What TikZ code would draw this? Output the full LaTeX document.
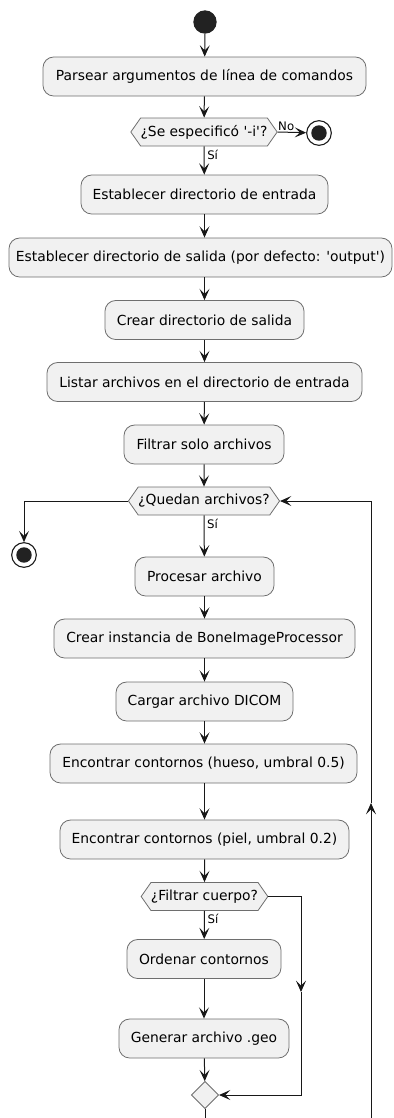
\documentclass[tikz,border=0pt]{standalone}
\usepackage{fontspec}
\setmainfont{DejaVu Sans}
\usetikzlibrary{arrows.meta,shapes.symbols,shapes.geometric,calc}
\definecolor{boxfill}{HTML}{F1F1F1}
\definecolor{boxline}{HTML}{6E6E6E}
\definecolor{arrcol}{HTML}{181818}
\definecolor{dotcol}{HTML}{222222}
\newcommand{\sq}{\textquotesingle}
\begin{document}
\begin{tikzpicture}[x=0.75pt,y=-0.75pt,
  box/.style={draw=boxline, fill=boxfill, rounded corners=8pt, line width=0.6pt,
    minimum height=29.25pt, inner sep=0pt, font=\fontsize{10.4}{12}\selectfont},
  bw/.style={minimum width=#1*0.75pt},
  dec/.style={draw=boxline, fill=boxfill, signal, signal to=east and west,
    signal pointer angle=110, line width=0.6pt, inner sep=0pt,
    minimum height=21pt, font=\fontsize{10.4}{12}\selectfont},
  arr/.style={draw=arrcol, line width=0.75pt, -{Stealth[length=8.5pt,width=7.5pt,inset=3.8pt]}},
  plain/.style={draw=arrcol, line width=0.75pt},
  lab/.style={font=\fontsize{8.8}{10}\selectfont, inner sep=1pt},
  startdot/.style={circle, fill=dotcol, minimum size=17.5pt, inner sep=0pt},
  enddot/.style={circle, draw=arrcol, fill=white, line width=0.8pt, minimum size=18.5pt, inner sep=0pt,
    path picture={\fill[dotcol] (path picture bounding box.center) circle (5.8pt);}},
  merge/.style={diamond, draw=boxline, fill=boxfill, line width=0.6pt, minimum size=20.5pt, inner sep=0pt}
]
\useasboundingbox (0,0) rectangle (393,1118);
\clip (0,0) rectangle (393,1118);

\node[startdot] (start) at (205,22) {};
\node[box, bw=323] (b1) at (204.5,76.5) {Parsear argumentos de línea de comandos};
\node[dec, minimum width=108pt] (d1) at (204,132) {¿Se especificó \sq-i\sq?};
\node[enddot] (e1) at (319,133) {};
\node[box, bw=247] (b2) at (204.5,194.5) {Establecer directorio de entrada};
\node[box, bw=383] (b3) at (200.5,257.5) {Establecer directorio de salida (por defecto: \sq output\sq)};
\node[box, bw=199] (b4) at (204.5,320) {Crear directorio de salida};
\node[box, bw=315] (b5) at (204.5,382) {Listar archivos en el directorio de entrada};
\node[box, bw=160] (b6) at (204,444.5) {Filtrar solo archivos};
\node[dec, minimum width=111pt] (d2) at (204,501) {¿Quedan archivos?};
\node[enddot] (e2) at (24,555) {};
\node[box, bw=139] (b7) at (204.5,576.5) {Procesar archivo};
\node[box, bw=301] (b8) at (204.5,638.5) {Crear instancia de BoneImageProcessor};
\node[box, bw=177] (b9) at (204.5,701.5) {Cargar archivo DICOM};
\node[box, bw=307] (b10) at (203.5,763.5) {Encontrar contornos (hueso, umbral 0.5)};
\node[box, bw=289] (b11) at (204.5,839.5) {Encontrar contornos (piel, umbral 0.2)};
\node[dec, minimum width=95pt] (d3) at (204.5,896.5) {¿Filtrar cuerpo?};
\node[box, bw=154] (b12) at (204,959) {Ordenar contornos};
\node[box, bw=170] (b13) at (204,1038.5) {Generar archivo .geo};
\node[merge] (m) at (205,1095) {};

\coordinate (c2l) at (24,501);
\coordinate (c3a) at (301,896.5);
\coordinate (c3m) at (301,992);
\coordinate (c3b) at (301,1095);
\coordinate (lb1) at (205,1140);
\coordinate (lb2) at (371,1140);
\coordinate (lm) at (371,803);
\coordinate (lt) at (371,501);

\draw[arr] (start) -- (b1);
\draw[arr] (b1) -- (d1);
\draw[arr] (d1.east) -- node[lab, pos=0.3, above] {No} (e1);
\draw[arr] (d1.south) -- node[lab, pos=0.3, right, xshift=1pt] {Sí} (b2);
\draw[arr] (b2) -- (b2 |- b3.north);
\draw[arr] (b2 |- b3.south) -- (b4);
\draw[arr] (b4) -- (b5);
\draw[arr] (b5) -- (b6);
\draw[arr] (b6) -- (d2);
\draw[arr] (d2.west) -- (c2l) -- (e2);
\draw[arr] (d2.south) -- node[lab, pos=0.2, right, xshift=1pt] {Sí} (b7);
\draw[arr] (b7) -- (b8);
\draw[arr] (b8) -- (b9);
\draw[arr] (b9) -- (b9 |- b10.north);
\draw[arr] (b9 |- b10.south) -- (b9 |- b11.north);
\draw[arr] (b9 |- b11.south) -- (d3);
\draw[arr] (d3.south) -- node[lab, pos=0.3, right, xshift=1pt] {Sí} (b12);
\draw[arr] (b12) -- (b13);
\draw[arr] (b13) -- (m);
\draw[arr] (d3.east) -- (c3a) -- (c3m);
\draw[arr] (c3m) -- (c3b) -- (m.east);
\draw[plain] (m.south) -- (lb1) -- (lb2);
\draw[arr] (lb2) -- (lm);
\draw[arr] (lm) -- (lt) -- (d2.east);
\end{tikzpicture}
\end{document}
